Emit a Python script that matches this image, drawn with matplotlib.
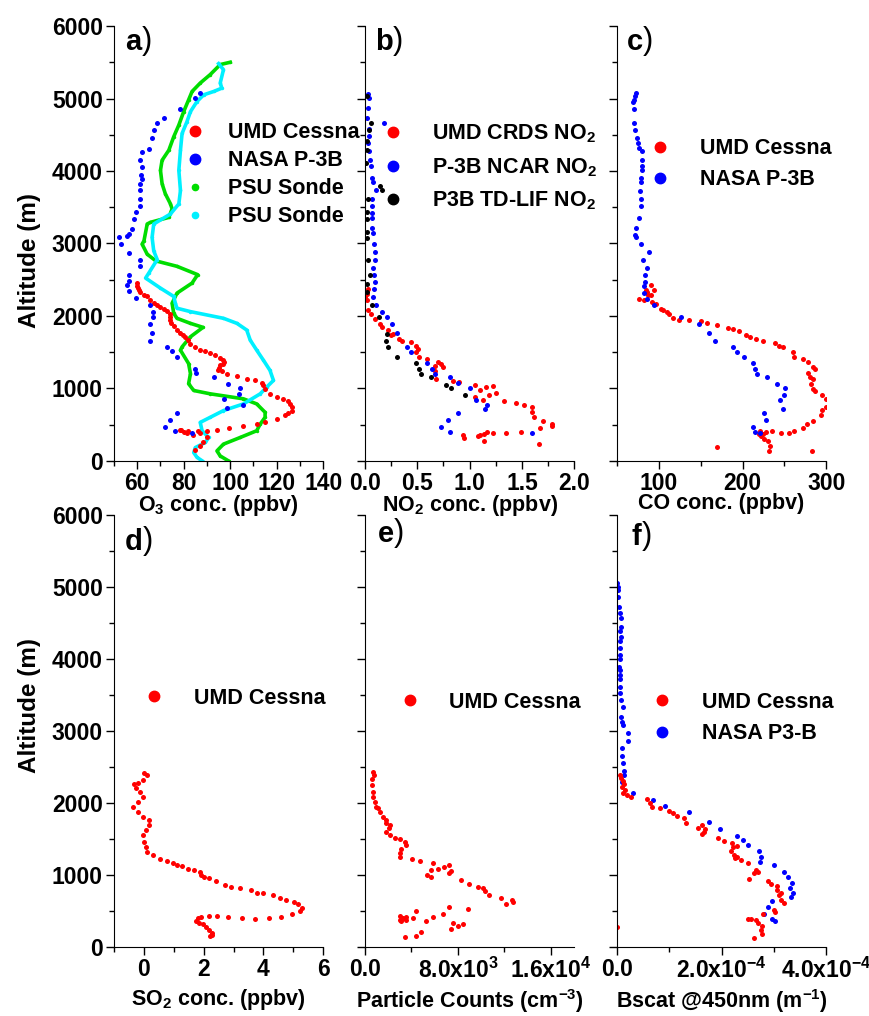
import matplotlib
matplotlib.use("Agg")
import matplotlib.pyplot as plt
from matplotlib.lines import Line2D
from matplotlib.ticker import MultipleLocator, FixedLocator, FixedFormatter, FormatStrFormatter

plt.rcParams['font.family'] = ['Liberation Sans', 'DejaVu Sans']
plt.rcParams['font.weight'] = 'bold'
plt.rcParams['mathtext.fontset'] = 'custom'
plt.rcParams['mathtext.rm'] = 'Liberation Sans:bold'
plt.rcParams['mathtext.it'] = 'Liberation Sans:bold'
plt.rcParams['mathtext.bf'] = 'Liberation Sans:bold'

RED = '#ff0000'
BLUE = '#0000ff'
GREEN = '#00dd00'
CYAN = '#00f0ff'
BLACK = '#000000'

# ---------------- a) O3 ----------------
o3_umd_x = [60, 59.7, 60.3, 60.7, 61.4, 62.9, 64.3, 65.7, 67.1, 68.6, 70.0, 71.4, 72.9, 74.0, 74.3,
            74.0, 74.6, 75.7, 76.9, 78.3, 79.7, 80.7, 81.7, 82.9, 85.0, 87.1, 89.3, 91.4, 93.6, 95.7,
            97.1, 97.4, 96.9, 95.7, 95.0, 94.6, 96.4, 98.6, 102.9, 107.1, 110.7, 113.6, 114.3, 115,
            117.1, 120, 122.9, 125, 125.7, 126.4, 126.4, 125, 123.6, 120, 115, 111.4, 105.7, 99.3,
            94.3, 90, 86, 82, 79, 78.5, 80, 81.4, 84.2, 87.1, 90, 88.5, 87, 85]
o3_umd_alt = [2454, 2417, 2384, 2352, 2324, 2292, 2269, 2222, 2185, 2153, 2121, 2093, 2070, 2028, 1991,
              1945, 1908, 1861, 1806, 1769, 1736, 1704, 1667, 1620, 1574, 1537, 1519, 1491, 1458, 1426,
              1398, 1366, 1343, 1320, 1287, 1259, 1241, 1204, 1167, 1134, 1111, 1074, 1042, 995,
              926, 880, 857, 824, 787, 741, 695, 657, 639, 579, 532, 509, 486, 449,
              427, 420, 415, 410, 425, 430, 400, 382, 362, 386, 335, 266, 210, 152]

o3_nasa_x = [87.1, 85, 78.6, 71.4, 68.6, 67.1, 66.4, 65, 62.1, 61.4, 61.9, 61.7, 62.1, 61.4, 61.1,
             61.4, 61.4, 59.3, 58.6, 57.9, 56.4, 55.7, 52.1, 52.9, 56.4, 61.4, 61.4, 56.4, 56.4, 55.7,
             56.4, 59.3, 65.7, 66.8, 66.8, 65.7, 66.4, 65.7, 72.6, 75, 76.9, 85, 85.4, 92.9, 98.9,
             104.3, 103.7, 105.7, 98.6, 97.4, 77.1, 74.3, 72.1, 76.4, 83.6]
o3_nasa_alt = [5074, 5005, 4852, 4727, 4657, 4565, 4449, 4310, 4264, 4148, 4055, 3940, 3894, 3824, 3731,
               3616, 3523, 3431, 3338, 3199, 3130, 3107, 3084, 2991, 2875, 2778, 2685, 2570, 2477, 2431,
               2338, 2245, 2153, 2060, 1991, 1889, 1769, 1658, 1574, 1514, 1435, 1273, 1213, 1158, 1065,
               1009, 917, 778, 732, 855, 657, 565, 472, 407, 380]

o3_sonde1_x = [100, 95.7, 91.4, 87.1, 83.6, 82.1, 80, 77.9, 75.7, 73.6, 70.7, 70, 70.7, 72.1, 74.3, 75,
               73.6, 65.7, 64.3, 62.9, 62.1, 64.3, 68, 77.1, 86, 83.6, 77.1, 75, 75.7, 77.1, 82.9, 88.3,
               82.9, 79.3, 78.6, 82.1, 82.9, 82.1, 84.3, 91.4, 105.7, 111.4, 115, 115, 112.9, 111.4,
               104.3, 97.1, 94.3, 95.7, 99.3]
o3_sonde1_alt = [5500, 5468, 5330, 5213, 5097, 4981, 4820, 4634, 4472, 4287, 4148, 4009, 3824, 3685, 3546,
                 3477, 3360, 3292, 3269, 3037, 2991, 2852, 2760, 2685, 2570, 2454, 2315, 2176, 2037, 1968,
                 1898, 1843, 1713, 1574, 1528, 1343, 1204, 1065, 972, 926, 857, 787, 671, 602, 509, 417,
                 324, 232, 139, 69, 0]

o3_sonde2_x = [95, 97.1, 95.7, 96.4, 92.9, 88.6, 85.7, 82.9, 81.4, 79.3, 78.6, 77.9, 78.6, 77.9, 74.3,
               67.1, 66.4, 67.1, 68.6, 65, 63.6, 70, 75.7, 76.4, 77.1, 82.9, 97.1, 102.9, 107.1, 108.6,
               111.4, 114.3, 117.1, 118.6, 115.7, 112.9, 105.7, 97.1, 91.4, 87.1, 87.9, 90.7, 89.3, 85,
               84.3, 85.7, 88]
o3_sonde2_alt = [5481, 5398, 5213, 5143, 5097, 5051, 4958, 4819, 4681, 4518, 4287, 4009, 3731, 3546, 3407,
                 3269, 3084, 2898, 2778, 2593, 2523, 2384, 2269, 2176, 2107, 2060, 1968, 1898, 1806, 1667,
                 1528, 1389, 1250, 1111, 1019, 926, 787, 695, 602, 532, 417, 324, 255, 185,
                 116, 50, 0]

# ---------------- b) NO2 ----------------
no2_umd_x = [0.03, 0.016, 0.0, 0.02, 0.03, 0.06, 0.095, 0.14, 0.16, 0.22, 0.25, 0.27, 0.33, 0.35, 0.44,
             0.49, 0.51, 0.49, 0.52, 0.59, 0.67, 0.70, 0.73, 0.75, 0.67, 0.68, 0.84, 0.90, 1.05, 1.10,
             1.16, 1.22, 1.19, 1.25, 1.05, 1.13, 1.33, 1.44, 1.52, 1.60, 1.60, 1.62, 1.70, 1.79, 1.79,
             1.67, 1.49, 1.35, 1.22, 1.17, 1.14, 1.10, 1.08, 1.14, 0.94, 0.95, 1.66]
no2_umd_alt = [2377, 2307, 2261, 2215, 2077, 2031, 1961, 1892, 1846, 1800, 1731, 1754, 1685, 1661, 1638,
               1592, 1546, 1500, 1431, 1408, 1315, 1361, 1338, 1292, 1246, 1131, 1108, 1085, 1052, 978,
               1025, 1038, 909, 932, 877, 840, 821, 803, 775, 738, 669, 600, 545, 508, 485,
               448, 406, 392, 392, 406, 378, 360, 346, 277, 355, 323, 231]

no2_ncar_x = [0.03, 0.04, 0.03, 0.02, 0.18, 0.04, 0.04, 0.03, 0.04, 0.05, 0.054, 0.063, 0.08, 0.105,
              0.07, 0.07, 0.07, 0.07, 0.07, 0.08, 0.09, 0.10, 0.10, 0.08, 0.085, 0.095, 0.085, 0.08,
              0.11, 0.16, 0.21, 0.26, 0.31, 0.40, 0.44, 0.59, 0.64, 0.67, 0.81, 0.89, 1.0, 1.06, 1.17,
              1.15, 0.89, 0.79, 0.73, 0.81, 1.60]
no2_ncar_alt = [5067, 5005, 4869, 4730, 4661, 4578, 4477, 4384, 4269, 4153, 4070, 3900, 3854, 3738,
                3613, 3517, 3415, 3346, 3207, 3138, 2991, 2884, 2778, 2663, 2561, 2469, 2377, 2261,
                2146, 2054, 1984, 1892, 1763, 1569, 1500, 1348, 1269, 1200, 1154, 1071, 1006, 840, 775,
                720, 655, 563, 471, 406, 383]

no2_tdlif_x = [0.016, 0.06, 0.04, 0.016, 0.016, 0.01, 0.14, 0.16, 0.03, 0.02, 0.02, 0.016, 0.016, 0.03,
               0.05, 0.02, 0.016, 0.07, 0.13, 0.21, 0.20, 0.22, 0.31, 0.49, 0.52, 0.54, 0.63, 0.77,
               0.82, 0.96]
no2_tdlif_alt = [5030, 4661, 4569, 4407, 4292, 4107, 3793, 3738, 3613, 3438, 3332, 3161, 3069, 2769,
                 2561, 2446, 2330, 2146, 1984, 1754, 1661, 1569, 1431, 1348, 1269, 1200, 1154, 1052,
                 1006, 914]

# ---------------- c) CO ----------------
co_umd_x = [76.8, 82, 86, 91.2, 94, 84.8, 87.2, 91.2, 92, 96, 102, 104.8, 110, 112, 116.8, 124, 136,
            150, 158, 170, 183.2, 188.8, 196, 204, 208.8, 216, 224.8, 238.8, 243.2, 248.8, 260, 262,
            272.8, 278, 284, 286, 278, 280, 284, 282, 284, 286, 295.2, 300, 306, 300, 295.2, 294, 284,
            276.8, 272, 262, 256, 246, 235.2, 228, 220.8, 222, 226, 230, 232.8, 231.2, 169.2, 283,
            220, 224]
co_umd_alt = [2238, 2215, 2330, 2423, 2363, 2354, 2284, 2284, 2192, 2160, 2100, 2086, 2054, 2031, 1975,
              1948, 1938, 1929, 1901, 1874, 1837, 1818, 1791, 1731, 1708, 1680, 1652, 1634, 1592, 1569,
              1500, 1440, 1403, 1361, 1301, 1269, 1209, 1163, 1131, 1061, 992, 960, 914, 854, 808, 738,
              701, 637, 545, 508, 452, 415, 392, 392, 415, 406, 415, 346, 300, 277, 208, 138, 194, 138,
              378, 369]

co_nasa_x = [72.8, 71.2, 70, 69.2, 70, 70, 71.2, 74, 75.2, 76.8, 80, 80, 80, 80, 79.2, 79.2, 78, 79.2,
             78.8, 76, 72.8, 72, 72.8, 78.8, 88, 80.8, 86, 83.2, 84, 82.8, 82, 86, 94, 126, 148, 160,
             167.2, 188.8, 192.8, 202, 212.8, 215.2, 216.8, 229.2, 240.8, 251.2, 249.2, 245.2, 248.8,
             225.2, 228, 212.8, 215.2, 221.2]
co_nasa_alt = [5077, 5031, 4984, 4952, 4855, 4661, 4569, 4453, 4393, 4315, 4269, 4153, 4070, 4015, 3900,
               3854, 3729, 3613, 3517, 3346, 3207, 3115, 3092, 2986, 2884, 2778, 2667, 2561, 2469, 2409,
               2321, 2238, 2146, 1984, 1883, 1763, 1652, 1569, 1500, 1431, 1348, 1269, 1200, 1154, 1061,
               1006, 914, 840, 715, 655, 563, 471, 406, 383]

# ---------------- d) SO2 ----------------
so2_umd_x = [0.01, 0.12, -0.04, -0.21, -0.32, -0.27, -0.12, -0.04, -0.21, -0.38, -0.21, -0.04, 0.18,
             0.18, 0.07, -0.04, 0.01, 0.07, 0.12, 0.29, 0.54, 0.77, 0.96, 1.12, 1.29, 1.48, 1.68, 1.88,
             1.92, 2.01, 2.18, 2.43, 2.73, 2.92, 3.23, 3.59, 3.77, 3.99, 4.32, 4.54, 4.77, 5.01, 5.16,
             5.29, 5.21, 4.96, 4.59, 4.18, 3.71, 3.27, 2.81, 2.46, 2.18, 1.90, 1.81, 1.73, 1.84, 1.99,
             2.07, 2.18, 2.27, 2.29, 2.21]
so2_umd_alt = [2420, 2392, 2314, 2282, 2268, 2208, 2156, 2087, 2018, 1949, 1876, 1808, 1762, 1693, 1624,
               1555, 1463, 1394, 1325, 1273, 1227, 1190, 1167, 1144, 1121, 1089, 1066, 1043, 1006, 969,
               952, 915, 859, 837, 813, 786, 754, 745, 717, 685, 656, 629, 592, 546, 500, 463, 422, 399,
               394, 399, 417, 431, 426, 417, 399, 362, 339, 316, 279, 238, 201, 169, 150]

# ---------------- e) particle counts ----------------
pc_umd_x = [655, 769, 569, 569, 655, 712, 854, 940, 1139, 1281, 1566, 1794, 1851, 2135, 2078, 1851, 2192,
            2562, 3046, 3416, 3501, 3131, 2989, 3046, 4071, 4698, 5893, 5694, 5352, 5694, 6263, 6832,
            7259, 7402, 7203, 8256, 8911, 9765, 10164, 10335, 10676, 11672, 12099, 12669, 12726, 8825,
            7259, 5893, 6747, 4413, 4128, 5267, 2989, 3131, 3273, 3558, 3501, 2989, 7544, 7402, 7971,
            8398, 3416, 4413, 4840]
pc_umd_alt = [2432, 2386, 2340, 2248, 2156, 2087, 2018, 1949, 1926, 1880, 1811, 1765, 1719, 1696, 1650,
              1595, 1549, 1521, 1503, 1457, 1411, 1365, 1305, 1245, 1218, 1190, 1167, 1066, 1006, 974,
              1089, 1112, 1144, 1052, 1029, 937, 877, 840, 813, 776, 721, 684, 592, 647, 629, 523, 560,
              417, 454, 500, 399, 362, 431, 362, 408, 417, 371, 371, 339, 247, 293, 316, 146, 155, 215]

# ---------------- f) Bscat ----------------
bs_umd_x = [0.63e-5, 0.83e-5, 1.08e-5, 1.27e-5, 0.95e-5, 1.46e-5, 1.08e-5, 1.9e-5, 2.67e-5, 5.71e-5,
            6.35e-5, 6.67e-5, 8.25e-5, 10.0e-5, 10.8e-5, 11.4e-5, 12.9e-5, 13.1e-5, 15.4e-5, 16.3e-5,
            16.9e-5, 16.2e-5, 16.7e-5, 19.4e-5, 20.4e-5, 21.9e-5, 22.1e-5, 22.9e-5, 21.7e-5, 22.4e-5,
            22.9e-5, 22.5e-5, 23.7e-5, 25.0e-5, 26.5e-5, 26.2e-5, 27e-5, 25.3e-5, 28.9e-5, 29.4e-5,
            30.5e-5, 30.6e-5, 31.4e-5, 30.9e-5, 31.3e-5, 31.9e-5, 30.0e-5, 30.3e-5, 28.0e-5, 25.1e-5,
            25.7e-5, 26.5e-5, 27e-5, 27.7e-5, 27.6e-5, 27.7e-5, 26.2e-5, 0.0]
bs_umd_alt = [2389, 2343, 2310, 2264, 2227, 2181, 2144, 2111, 2079, 2051, 2005, 1940, 1926, 1894, 1857,
              1820, 1787, 1727, 1658, 1695, 1635, 1570, 1598, 1509, 1477, 1449, 1394, 1403, 1338, 1278,
              1255, 1232, 1208, 1162, 1070, 1023, 1037, 945, 917, 875, 847, 792, 755, 722, 653, 607,
              514, 481, 454, 394, 384, 375, 329, 292, 236, 181, 120, 282]

bs_nasa_x = [0.0, 0.19e-5, 0.19e-5, 0.19e-5, 0.32e-5, 0.63e-5, 0.83e-5, 0.83e-5, 0.63e-5, 0.83e-5, 0.63e-5,
             0.63e-5, 0.63e-5, 0.63e-5, 0.44e-5, 0.63e-5, 0.63e-5, 0.63e-5, 0.63e-5, 0.63e-5, 0.83e-5,
             1.08e-5, 0.83e-5, 0.95e-5, 1.08e-5, 2.1e-5, 2.1e-5, 0.95e-5, 0.95e-5, 1.08e-5, 1.27e-5,
             1.27e-5, 0.95e-5, 3.05e-5, 6.86e-5, 9.08e-5, 13.8e-5, 17.6e-5, 19.7e-5, 22.9e-5, 24.1e-5,
             25.0e-5, 27.2e-5, 27.6e-5, 27.3e-5, 30e-5, 31.9e-5, 32.7e-5, 33.5e-5, 33.1e-5, 33.7e-5,
             33.3e-5, 29.7e-5, 28.9e-5, 28.1e-5, 29.7e-5, 30.3e-5]
bs_nasa_alt = [5051, 5005, 4959, 4857, 4727, 4644, 4565, 4449, 4389, 4311, 4255, 4148, 4056, 4000, 3894,
               3847, 3778, 3722, 3607, 3523, 3431, 3338, 3199, 3130, 3084, 2977, 2866, 2759, 2653, 2551,
               2449, 2389, 2296, 2134, 2042, 1963, 1871, 1741, 1639, 1546, 1486, 1412, 1333, 1255, 1185,
               1139, 1042, 977, 894, 815, 755, 699, 634, 551, 454, 384, 361]

# tick labels
e_ticks = [0, 8000, 16000]
e_ticklabels = ['0.0', '8.0x10$^{3}$', '1.6x10$^{4}$']
f_ticks = [0, 2e-4, 4e-4]
f_ticklabels = ['0.0', '2.0x10$^{-4}$', '4.0x10$^{-4}$']

# ---------------- layout ----------------
fig = plt.figure(figsize=(8.7, 10.16), dpi=100)
lefts = [0.131, 0.4195, 0.7092]
width = 0.2405
top_b, top_h = 0.5463, 0.4281
bot_b, bot_h = 0.0679, 0.4252

axes = {}
for i, key in enumerate('abc'):
    axes[key] = fig.add_axes([lefts[i], top_b, width, top_h])
for i, key in enumerate('def'):
    axes[key] = fig.add_axes([lefts[i], bot_b, width, bot_h])
for ax in axes.values():
    # labels of the top row sit right on the top edge of the bottom row
    ax.patch.set_visible(False)


def style_axes(ax, xlim, major, minor, show_y):
    ax.set_xlim(*xlim)
    ax.set_ylim(0, 6000)
    ax.spines['top'].set_visible(False)
    ax.spines['right'].set_visible(False)
    if major is not None:
        ax.xaxis.set_major_locator(MultipleLocator(major))
    ax.xaxis.set_minor_locator(MultipleLocator(minor))
    ax.yaxis.set_major_locator(MultipleLocator(1000))
    ax.yaxis.set_minor_locator(MultipleLocator(500))
    ax.tick_params(which='major', direction='out', length=6, width=1, labelsize=16.5, pad=2)
    ax.tick_params(which='minor', direction='out', length=3.5, width=1)
    if not show_y:
        ax.tick_params(axis='y', labelleft=False)
    else:
        ax.set_ylabel('Altitude (m)', fontsize=17.5, fontweight='bold')


def panel_label(ax, letter, x, y):
    t = ax.text(x, y, letter, transform=ax.transAxes, fontsize=21, fontweight='bold')
    ax.annotate(')', xy=(1, 0), xycoords=t, ha='left', va='bottom', fontsize=22, fontweight='normal')


def dots(ax, x, y, color, ms=3.6):
    ax.plot(x, y, ls='none', marker='o', ms=ms, color=color, mec=color, mew=0)


def add_legend(ax, entries, anchor, spacing, textpad=1.33):
    handles = [Line2D([], [], ls='none', marker='o', ms=ms, color=c, mec=c) for c, ms, _ in entries]
    labels = [lab for _, _, lab in entries]
    ax.legend(handles, labels, loc='center left', bbox_to_anchor=anchor, frameon=False,
              fontsize=15.5, handlelength=1.0, handletextpad=textpad, borderpad=0,
              borderaxespad=0, labelspacing=spacing)


# a)
ax = axes['a']
ax.plot(o3_sonde1_x, o3_sonde1_alt, color=GREEN, lw=2.6, marker='o', ms=2.5, mew=0)
ax.plot(o3_sonde2_x, o3_sonde2_alt, color=CYAN, lw=2.6, marker='o', ms=2.5, mew=0)
dots(ax, o3_umd_x, o3_umd_alt, RED)
dots(ax, o3_nasa_x, o3_nasa_alt, BLUE)
style_axes(ax, (50, 140), 20, 10, True)
ax.set_xlabel('O$_3$ conc. (ppbv)', fontsize=15.5, fontweight='bold')
add_legend(ax, [(RED, 7.5, 'UMD Cessna'), (BLUE, 7.5, 'NASA P-3B'),
                (GREEN, 4.5, 'PSU Sonde'), (CYAN, 4.5, 'PSU Sonde')], (0.335, 0.658), 0.32,
           textpad=1.05)
panel_label(ax, 'a', 0.053, 0.945)

# b)
ax = axes['b']
dots(ax, no2_umd_x, no2_umd_alt, RED)
dots(ax, no2_ncar_x, no2_ncar_alt, BLUE)
dots(ax, no2_tdlif_x, no2_tdlif_alt, BLACK)
style_axes(ax, (0, 2.0), 0.5, 0.25, False)
ax.xaxis.set_major_formatter(FormatStrFormatter('%.1f'))
ax.set_xlabel('NO$_2$ conc. (ppbv)', fontsize=15.5, fontweight='bold')
add_legend(ax, [(RED, 7.5, 'UMD CRDS NO$_2$'), (BLUE, 7.5, 'P-3B NCAR NO$_2$'),
                (BLACK, 7.5, 'P3B TD-LIF NO$_2$')], (0.083, 0.675), 0.5)
panel_label(ax, 'b', 0.047, 0.945)

# c)
ax = axes['c']
dots(ax, co_umd_x, co_umd_alt, RED)
dots(ax, co_nasa_x, co_nasa_alt, BLUE)
style_axes(ax, (50, 300), 100, 50, False)
ax.set_xlabel('CO conc. (ppbv)', fontsize=15.5, fontweight='bold')
add_legend(ax, [(RED, 7.5, 'UMD Cessna'), (BLUE, 7.5, 'NASA P-3B')], (0.155, 0.682), 0.45)
panel_label(ax, 'c', 0.048, 0.945)

# d)
ax = axes['d']
dots(ax, so2_umd_x, so2_umd_alt, RED)
style_axes(ax, (-1, 6), 2, 1, True)
ax.set_xlabel('SO$_2$ conc. (ppbv)', fontsize=15.5, fontweight='bold')
add_legend(ax, [(RED, 7.5, 'UMD Cessna')], (0.142, 0.576), 0.2)
panel_label(ax, 'd', 0.053, 0.919)

# e)
ax = axes['e']
dots(ax, pc_umd_x, pc_umd_alt, RED)
style_axes(ax, (0, 18000), None, 4000, False)
ax.xaxis.set_major_locator(FixedLocator(e_ticks))
ax.xaxis.set_major_formatter(FixedFormatter(e_ticklabels))
ax.set_xlabel('Particle Counts (cm$^{-3}$)', fontsize=15.5, fontweight='bold')
add_legend(ax, [(RED, 7.5, 'UMD Cessna')], (0.164, 0.567), 0.2)
panel_label(ax, 'e', 0.062, 0.9375)

# f)
ax = axes['f']
dots(ax, bs_nasa_x, bs_nasa_alt, BLUE)
dots(ax, bs_umd_x, bs_umd_alt, RED)
style_axes(ax, (0, 4e-4), None, 1e-4, False)
ax.xaxis.set_major_locator(FixedLocator(f_ticks))
ax.xaxis.set_major_formatter(FixedFormatter(f_ticklabels))
ax.set_xlabel('Bscat @450nm (m$^{-1}$)', fontsize=15.5, fontweight='bold')
add_legend(ax, [(RED, 7.5, 'UMD Cessna'), (BLUE, 7.5, 'NASA P3-B')], (0.165, 0.530), 0.5)
panel_label(ax, 'f', 0.071, 0.93)

for key in 'abc':
    axes[key].xaxis.set_label_coords(0.5, -0.074)
for key in 'def':
    axes[key].xaxis.set_label_coords(0.5, -0.092)
axes['a'].yaxis.set_label_coords(-0.35, 0.46)
axes['d'].yaxis.set_label_coords(-0.35, 0.558)

fig.savefig('out.png', dpi=100)
